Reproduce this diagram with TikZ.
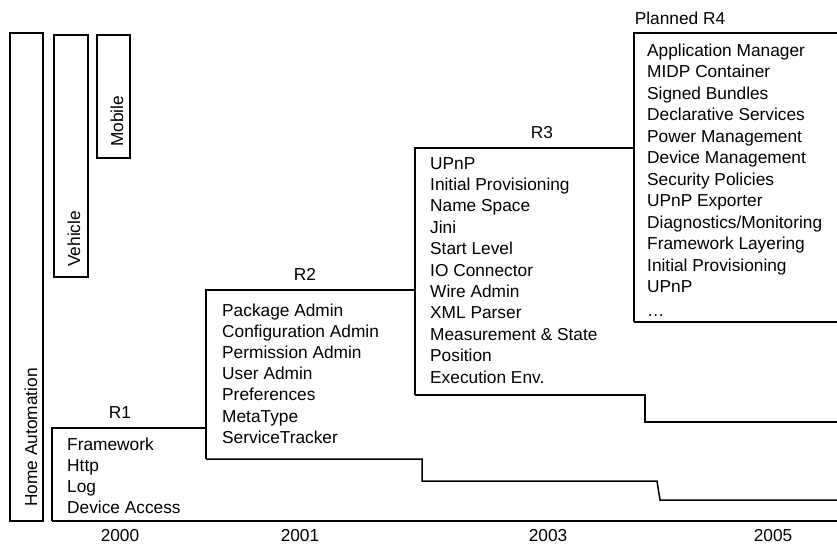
\documentclass[tikz,border=0pt]{standalone}
\usepackage{fontspec}
\setmainfont{Liberation Sans}
\begin{document}
\begin{tikzpicture}[x=1pt,y=-1pt,
  outline/.style={draw=black,line width=1.5pt,line join=miter},
  item/.style={anchor=base west,inner sep=0pt,font=\fontsize{17.3}{21}\selectfont},
  title/.style={anchor=base,inner sep=0pt,font=\fontsize{17.3}{21}\selectfont},
  vlabel/.style={anchor=base west,rotate=90,inner sep=0pt,font=\fontsize{17.3}{21}\selectfont}]
\useasboundingbox (0,0) rectangle (837,550);
% market boxes
\draw[outline] (10,33) rectangle (43,521);
\draw[outline] (54,35) rectangle (88,277);
\draw[outline] (97,35) rectangle (130,158);
\node[vlabel] (home) at (37,507) {Home Automation};
\node[vlabel] (vehicle) at (80,267) {Vehicle};
\node[vlabel] (mobile) at (123,147) {Mobile};
% staircase
\draw[outline] (52,521) -- (52,428) -- (206,428);
\draw[outline] (206,459) -- (206,290) -- (415,290);
\draw[outline] (415,395) -- (415,148) -- (634,148);
\draw[outline] (634,322) -- (634,33) -- (837,33);
\draw[outline] (634,322) -- (837,322);
\draw[outline] (415,395) -- (645,395) -- (645,422) -- (837,422);
\draw[outline] (206,459) -- (422,459) -- (422,481) -- (657,481) -- (660,500) -- (837,500);
\draw[outline] (52,521) -- (837,521);
% titles
\node[title] (r1) at (120,418) {R1};
\node[title] (r2) at (305,280) {R2};
\node[title] (r3) at (542,138) {R3};
\node[title] (r4) at (680,24) {Planned R4};
% years
\node[title] (y2000) at (120,541) {2000};
\node[title] (y2001) at (300,541) {2001};
\node[title] (y2003) at (548,541) {2003};
\node[title] (y2005) at (773,541) {2005};
% R1 items
\foreach \t [count=\i from 0] in {Framework,Http,Log,Device Access}
  \node[item] (ra\i) at (67,{450+21.3*\i}) {\t};
% R2 items
\foreach \t [count=\i from 0] in {Package Admin,Configuration Admin,Permission Admin,User Admin,Preferences,MetaType,ServiceTracker}
  \node[item] (rb\i) at (222,{316+21.2*\i}) {\t};
% R3 items
\foreach \t [count=\i from 0] in {UPnP,Initial Provisioning,Name Space,Jini,Start Level,IO Connector,Wire Admin,XML Parser,Measurement \& State,Position,Execution Env.}
  \node[item] (rc\i) at (430,{169+21.4*\i}) {\t};
% R4 items
\foreach \t [count=\i from 0] in {Application Manager,MIDP Container,Signed Bundles,Declarative Services,Power Management,Device Management,Security Policies,UPnP Exporter,Diagnostics/Monitoring,Framework Layering,Initial Provisioning,UPnP}
  \node[item] (rd\i) at (647,{56+21.5*\i}) {\t};
\node[item] (rddots) at (647,316) {\dots};
\end{tikzpicture}
\end{document}
